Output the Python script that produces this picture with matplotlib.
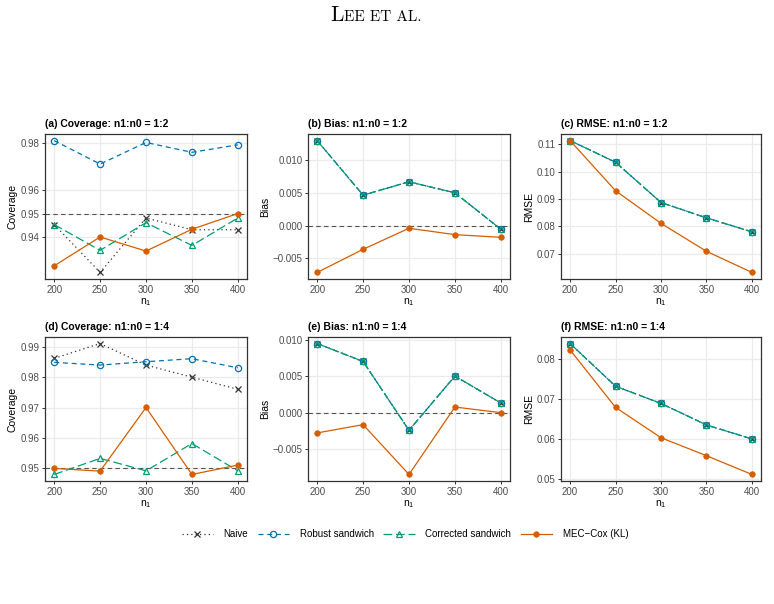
import numpy as np
import matplotlib
matplotlib.use("Agg")
import matplotlib.pyplot as plt

plt.rcParams['font.family'] = ['Liberation Sans', 'DejaVu Sans']

# --- data ---
n1 = [200, 250, 300, 350, 400]

# coverage, n1:n0 = 1:2
cov12_naive = [0.9453, 0.9249, 0.9481, 0.9431, 0.9431]
cov12_robust = [0.9811, 0.9711, 0.9803, 0.9761, 0.9793]
cov12_corr = [0.9453, 0.9343, 0.9461, 0.9364, 0.9481]
cov12_mec = [0.9277, 0.9400, 0.9340, 0.9433, 0.9500]

# coverage, n1:n0 = 1:4
cov14_naive = [0.9863, 0.9912, 0.9841, 0.9801, 0.9761]
cov14_robust = [0.9850, 0.9841, 0.9852, 0.9862, 0.9832]
cov14_corr = [0.9480, 0.9533, 0.9492, 0.9582, 0.9492]
cov14_mec = [0.9500, 0.9491, 0.9701, 0.9480, 0.9511]

# bias (naive / robust / corrected share the same point estimate)
bias12_std = [0.01296, 0.00464, 0.00668, 0.00500, -0.00056]
bias12_mec = [-0.00714, -0.00362, -0.00041, -0.00138, -0.00179]
bias14_std = [0.00945, 0.00700, -0.00241, 0.00500, 0.00132]
bias14_mec = [-0.00277, -0.00164, -0.00845, 0.00077, 0.00000]

# RMSE
rmse12_std = [0.1113, 0.1034, 0.0887, 0.0831, 0.0780]
rmse12_mec = [0.1113, 0.0930, 0.0811, 0.0709, 0.0632]
rmse14_std = [0.0839, 0.0732, 0.0689, 0.0635, 0.0600]
rmse14_mec = [0.0823, 0.0679, 0.0603, 0.0558, 0.0511]

method_names = ["Naive", "Robust sandwich", "Corrected sandwich", "MEC\u2212Cox (KL)"]

cov12_ticks = [0.94, 0.95, 0.96, 0.98]
cov14_ticks = [0.95, 0.96, 0.97, 0.98, 0.99]
bias_ticks = [-0.005, 0.0, 0.005, 0.010]
rmse12_ticks = [0.07, 0.08, 0.09, 0.10, 0.11]
rmse14_ticks = [0.05, 0.06, 0.07, 0.08]

# --- styles ---
styles = [
    dict(color="#333333", ls=(0, (1, 2.5)), marker="x", mfc="none", ms=4.5, mew=0.9),
    dict(color="#0072B2", ls=(0, (4, 3)), marker="o", mfc="none", ms=4.5, mew=0.9),
    dict(color="#009E73", ls=(0, (7, 3)), marker="^", mfc="none", ms=5, mew=0.9),
    dict(color="#D55E00", ls="-", marker="o", mfc="#D55E00", ms=4, mew=0.5),
]

W, H = 774, 604
fig = plt.figure(figsize=(W / 100, H / 100), dpi=100)


def px_axes(left, top, right, bottom):
    return fig.add_axes([left / W, 1 - bottom / H, (right - left) / W, (bottom - top) / H])


def style_axes(ax, ticks, fmt, ylabel, title, ref=None):
    ax.set_xlim(190, 410)
    ax.set_xticks(n1)
    ax.set_yticks(ticks)
    ax.set_yticklabels([fmt.format(t).replace("-", "\u2212") for t in ticks])
    ax.grid(True, color="#EBEBEB", lw=0.9, zorder=0)
    ax.set_axisbelow(True)
    for s in ax.spines.values():
        s.set_color("#333333")
        s.set_linewidth(0.9)
    ax.tick_params(length=2.5, width=0.7, color="#333333", labelcolor="#4D4D4D",
                   labelsize=7, pad=1.5)
    ax.set_ylabel(ylabel, fontsize=7.5, labelpad=2)
    ax.set_xlabel(r"$\mathregular{n_1}$", fontsize=7.5, labelpad=1)
    ax.set_title(title, loc="left", fontsize=7.5, fontweight="bold", pad=5)
    if ref is not None:
        ax.axhline(ref, color="#555555", lw=0.8, ls=(0, (4, 3)), zorder=1)


def set_ylim(ax, series):
    lo = min(min(s) for s in series)
    hi = max(max(s) for s in series)
    pad = (hi - lo) * 0.05
    ax.set_ylim(lo - pad, hi + pad)


def draw(ax, series):
    for ys, st in zip(series, styles):
        ax.plot(n1, ys, lw=0.9, zorder=3, **st)


cols = [(45, 247), (308, 510), (561, 761)]
rows = [(134, 279), (337, 481)]

panels = [
    (0, 0, [cov12_naive, cov12_robust, cov12_corr, cov12_mec], cov12_ticks, "{:.2f}",
     "Coverage", "(a) Coverage: n1:n0 = 1:2", 0.95),
    (0, 1, [bias12_std, bias12_std, bias12_std, bias12_mec], bias_ticks, "{:.3f}",
     "Bias", "(b) Bias: n1:n0 = 1:2", 0.0),
    (0, 2, [rmse12_std, rmse12_std, rmse12_std, rmse12_mec], rmse12_ticks, "{:.2f}",
     "RMSE", "(c) RMSE: n1:n0 = 1:2", None),
    (1, 0, [cov14_naive, cov14_robust, cov14_corr, cov14_mec], cov14_ticks, "{:.2f}",
     "Coverage", "(d) Coverage: n1:n0 = 1:4", 0.95),
    (1, 1, [bias14_std, bias14_std, bias14_std, bias14_mec], bias_ticks, "{:.3f}",
     "Bias", "(e) Bias: n1:n0 = 1:4", 0.0),
    (1, 2, [rmse14_std, rmse14_std, rmse14_std, rmse14_mec], rmse14_ticks, "{:.2f}",
     "RMSE", "(f) RMSE: n1:n0 = 1:4", None),
]

for r, c, series, ticks, fmt, ylab, title, ref in panels:
    left, right = cols[c]
    top, bottom = rows[r]
    ax = px_axes(left, top, right, bottom)
    draw(ax, series)
    style_axes(ax, ticks, fmt, ylab, title, ref)
    set_ylim(ax, series)

# legend
handles = [plt.Line2D([], [], lw=0.9, **st) for st in styles]
fig.legend(handles, method_names, loc="center", bbox_to_anchor=(405 / W, 1 - 534 / H),
           ncol=4, frameon=False, fontsize=7, handlelength=3.2, handletextpad=1.1,
           columnspacing=1.0)

# running header in small caps (big L + smaller caps, shared baseline)
base_y = 1 - 21 / H
t1 = fig.text(330 / W, base_y, "L", family="cmr10", fontsize=15.5,
              ha="left", va="baseline")
fig.canvas.draw()
ext = t1.get_window_extent(fig.canvas.get_renderer())
fig.text(ext.x1 / W + 0.5 / W, base_y, "EE ET AL.", family="cmr10", fontsize=11,
         ha="left", va="baseline")

fig.savefig("out.png", dpi=100)
